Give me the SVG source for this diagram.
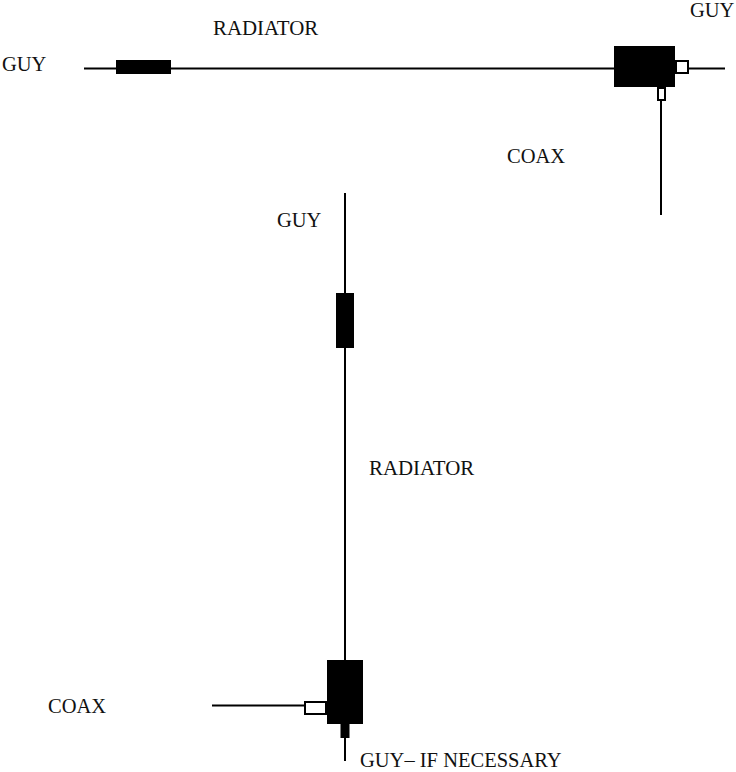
<svg xmlns="http://www.w3.org/2000/svg" width="736" height="772" viewBox="0 0 736 772">
<style>
.l{stroke:#000;stroke-width:2;fill:none}
.b{fill:#000}
.w{fill:#fff;stroke:#000;stroke-width:2}
text{font-family:"Liberation Serif","Times New Roman",serif;font-size:20.500px;fill:#111}
.r{font-size:20.900px}
</style>
<rect width="736" height="772" fill="#fff"/>
<g id="connectors">
<path class="l" d="M84 68.500H725"/>
<path class="l" d="M661 100V215"/>
<path class="l" d="M345 193V740"/>
<path class="l" d="M345 738V761"/>
<path class="l" d="M212 705.500H305"/>
</g>
<g id="top-choke"><rect class="b" x="116" y="60" width="55" height="14"/></g>
<g id="top-box"><rect class="b" x="614" y="46" width="61" height="41"/></g>
<g id="top-guy-insulator"><rect class="w" x="676" y="61" width="12" height="12"/></g>
<g id="top-coax-insulator"><rect class="w" x="658" y="88" width="7" height="12"/></g>
<g id="vert-choke"><rect class="b" x="336" y="293" width="18" height="55"/></g>
<g id="bottom-box"><rect class="b" x="327" y="660" width="36" height="64"/></g>
<g id="bottom-stub"><rect class="b" x="340.500" y="723" width="9" height="15"/></g>
<g id="bottom-coax-insulator"><rect class="w" x="305" y="702" width="21" height="12"/></g>
<g id="labels">
<text x="2" y="71">GUY</text>
<text class="r" x="213" y="35">RADIATOR</text>
<text x="690" y="17">GUY</text>
<text x="507" y="163">COAX</text>
<text x="277" y="227">GUY</text>
<text class="r" x="369" y="475">RADIATOR</text>
<text x="48" y="713">COAX</text>
<text x="360" y="767">GUY– IF NECESSARY</text>
</g>
</svg>
